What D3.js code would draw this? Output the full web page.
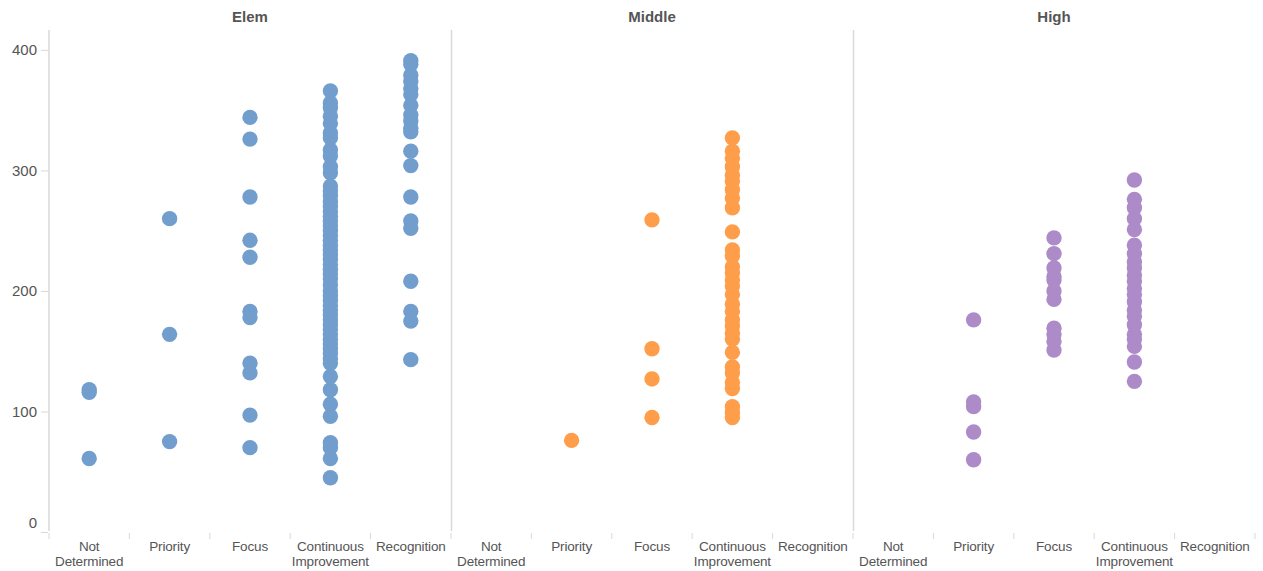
<!DOCTYPE html>
<html>
<head>
<meta charset="utf-8">
<script src="https://cdn.jsdelivr.net/npm/d3@7"></script>
<style>
  body { margin: 0; background: #fff; }
  text { font-family: "Liberation Sans", Arial, sans-serif; fill: #555; }
</style>
</head>
<body>
<div id="chart-area"></div>
<script>
// data
let levels = ["Elem", "Middle", "High"];
let categories = ["Not Determined", "Priority", "Focus", "Continuous Improvement", "Recognition"];
let catLines = [["Not", "Determined"], ["Priority"], ["Focus"], ["Continuous", "Improvement"], ["Recognition"]];
let yTicks = [0, 100, 200, 300, 400];
let levelColors = ["#729ece", "#ff9e4a", "#ad8bc9"];

let elemNotDetermined = [118, 116, 61];
let elemPriority = [260, 164, 75];
let elemFocus = [344, 326, 278, 242, 228, 183, 178, 140, 132, 97, 70];
let elemContinuous = [366, 356, 352, 345, 339, 331, 327, 317, 312, 303, 298, 287, 283, 279, 274, 270, 266, 262, 258,
  254, 250, 246, 242, 238, 234, 230, 226, 222, 218, 214, 210, 205, 200, 196, 192, 188, 184, 180, 176, 172, 168, 164,
  160, 156, 152, 148, 144, 140, 129, 118, 106, 96, 74, 70, 61, 45];
let elemRecognition = [391, 388, 379, 374, 368, 363, 354, 346, 341, 335, 332, 316, 304, 278, 258, 252, 208, 183, 175, 143];

let middlePriority = [76];
let middleFocus = [259, 152, 127, 95];
let middleContinuous = [327, 316, 310, 303, 296, 291, 284, 277, 269, 249, 234, 229, 220, 215, 209, 204, 197, 189,
  183, 176, 171, 165, 160, 149, 137, 132, 124, 119, 104, 99, 95];

let highPriority = [176, 108, 104, 83, 60];
let highFocus = [244, 231, 219, 212, 209, 200, 193, 169, 164, 158, 151];
let highContinuous = [292, 276, 269, 260, 251, 238, 231, 224, 219, 213, 208, 202, 197, 191, 184, 179, 172, 164, 160,
  154, 141, 125];

let series = [
  ["Elem", "Not Determined", elemNotDetermined],
  ["Elem", "Priority", elemPriority],
  ["Elem", "Focus", elemFocus],
  ["Elem", "Continuous Improvement", elemContinuous],
  ["Elem", "Recognition", elemRecognition],
  ["Middle", "Priority", middlePriority],
  ["Middle", "Focus", middleFocus],
  ["Middle", "Continuous Improvement", middleContinuous],
  ["High", "Priority", highPriority],
  ["High", "Focus", highFocus],
  ["High", "Continuous Improvement", highContinuous]
];

let points = [];
series.forEach((s) => {
  s[2].forEach((v) => { points.push({ level: s[0], cat: s[1], value: v }); });
});

let width = 1263, height = 571;
let svg = d3.select("#chart-area").append("svg")
  .attr("width", width)
  .attr("height", height);

let panel = d3.scaleBand().domain(levels).range([49, 1255]);
let x = d3.scaleBand().domain(categories).range([0, panel.bandwidth()]);
let y = d3.scaleLinear().domain([0, 416.5]).range([532, 30]);
let color = d3.scaleOrdinal().domain(levels).range(levelColors);

// panel dividers
svg.selectAll("line.divider").data(levels)
  .enter().append("line")
  .attr("class", "divider")
  .attr("x1", (d) => panel(d) + (d === "Elem" ? 0 : 0.5))
  .attr("x2", (d) => panel(d) + (d === "Elem" ? 0 : 0.5))
  .attr("y1", 30).attr("y2", 531)
  .attr("stroke", "#d9d9d9").attr("stroke-width", 1.5);

// headers
svg.selectAll("text.header").data(levels)
  .enter().append("text")
  .attr("class", "header")
  .attr("x", (d) => panel(d) + panel.bandwidth() / 2)
  .attr("y", 22)
  .attr("text-anchor", "middle")
  .attr("font-size", "15px")
  .attr("font-weight", "bold")
  .text((d) => d);

// y axis
let axisLeft = d3.axisLeft(y).tickValues(yTicks).tickSize(7).tickPadding(4);
let gy = svg.append("g")
  .attr("transform", "translate(48,0)")
  .call(axisLeft);
gy.select(".domain").remove();
gy.selectAll(".tick line").attr("stroke", "#d9d9d9");
gy.selectAll(".tick text")
  .attr("font-size", "15px")
  .attr("fill", "#555")
  .attr("dy", (d) => d === 0 ? "-0.3em" : "0.32em");

// bottom ticks and labels per panel
levels.forEach((lev) => {
  let g = svg.append("g").attr("transform", "translate(" + panel(lev) + ",0)");
  g.selectAll("line.xt").data(categories)
    .enter().append("line")
    .attr("x1", (d) => x(d)).attr("x2", (d) => x(d))
    .attr("y1", 533).attr("y2", 539)
    .attr("stroke", "#d9d9d9");
  let lbl = g.selectAll("text.xl").data(categories)
    .enter().append("text")
    .attr("x", (d) => x(d) + x.bandwidth() / 2)
    .attr("y", 551)
    .attr("text-anchor", "middle")
    .attr("font-size", "13.5px")
    .attr("letter-spacing", "-0.15px");
  lbl.selectAll("tspan").data((d, i) => catLines[i])
    .enter().append("tspan")
    .attr("x", function () { return d3.select(this.parentNode).attr("x"); })
    .attr("dy", (d, i) => i === 0 ? 0 : 15)
    .text((d) => d);
});
svg.append("line")
  .attr("x1", 1255).attr("x2", 1255).attr("y1", 533).attr("y2", 539)
  .attr("stroke", "#d9d9d9");

// dots
svg.selectAll("circle").data(points)
  .enter().append("circle")
  .attr("cx", (d) => panel(d.level) + x(d.cat) + x.bandwidth() / 2)
  .attr("cy", (d) => y(d.value))
  .attr("r", 7.7)
  .attr("fill", (d) => color(d.level));
</script>
</body>
</html>
